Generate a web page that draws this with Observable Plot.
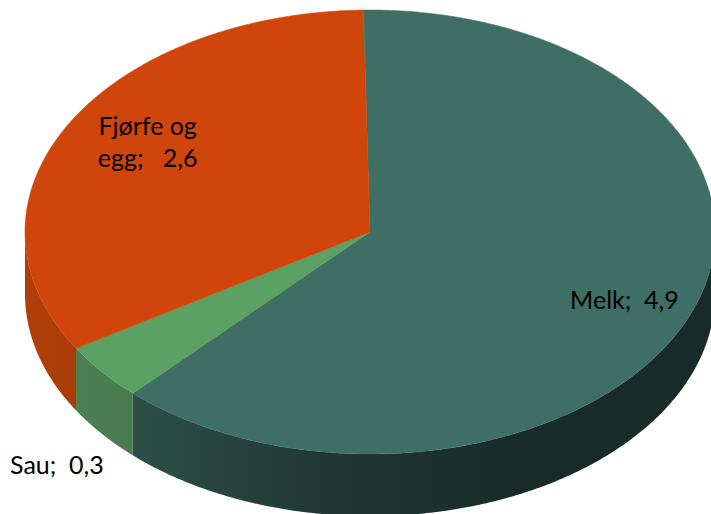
<!DOCTYPE html>
<html>
<head>
<meta charset="utf-8">
<script src="https://cdn.jsdelivr.net/npm/d3@7"></script>
<script src="https://cdn.jsdelivr.net/npm/@observablehq/plot@0.6"></script>
<style>
html,body{margin:0;padding:0;background:#fff;overflow:hidden}
svg{display:block;overflow:hidden}
</style>
</head>
<body>
<div id="chart"></div>
<script>
const categories = ["Melk", "Sau", "Fjørfe og egg"];
const values = [4.865, 0.325, 2.61];
const labelLines = ["Melk;  4,9", "Sau;  0,3", "Fjørfe og\negg;   2,6"];

// Styles and layout, kept apart from the data
const topColors = ["#3f6e64", "#5ba164", "#d0450b"];
const wallFills = ["url(#wall0)", "url(#wall1)", "url(#wall2)"];
const wallStops = [["#2d4f48", "#203733", "#182b28", "#182b28"], ["#4c8053", "#497b4e"], ["#b0400a", "#a93c07"]];
const labelX = [0.736, -0.909, -0.646];
const labelY = [0.297, 1.041, -0.414];
const startAngle = -1.1;     // degrees clockwise from the top
const wallDepth = 0.28;      // in units of the vertical radius
const step = 0.5;

const total = d3.sum(values);
let cursor = startAngle;
const slices = categories.map((name, i) => {
  const a0 = cursor;
  const a1 = cursor + values[i] / total * 360;
  cursor = a1;
  return {name, i, a0, a1};
});
const rad = d => d * Math.PI / 180;
const arcAngles = (a0, a1) => [...d3.range(a0, a1, step), a1];

const faces = slices.flatMap(s => arcAngles(s.a0, s.a1).map(a => ({
  i: s.i, x: Math.sin(rad(a)), y: -Math.cos(rad(a))
})));
const walls = slices.flatMap(s => {
  const lo = Math.max(s.a0, 90), hi = Math.min(s.a1, 270);
  if (hi <= lo) return [];
  return arcAngles(lo, hi).map(a => ({
    i: s.i, x: Math.sin(rad(a)), y: -Math.cos(rad(a))
  }));
});
const labels = categories.map((c, i) => ({text: labelLines[i], x: labelX[i], y: labelY[i]}));
const seam = [{
  x1: 0.75 * Math.sin(rad(startAngle)), y1: -0.75 * Math.cos(rad(startAngle)),
  x2: Math.sin(rad(startAngle)), y2: -Math.cos(rad(startAngle))
}];

const gradients = () => {
  const svgNS = "http://www.w3.org/2000/svg";
  const g = document.createElementNS(svgNS, "defs");
  wallStops.forEach((stops, i) => {
    const lg = document.createElementNS(svgNS, "linearGradient");
    lg.setAttribute("id", "wall" + i);
    stops.forEach((c, k) => {
      const st = document.createElementNS(svgNS, "stop");
      st.setAttribute("offset", k / (stops.length - 1));
      st.setAttribute("stop-color", c);
      lg.appendChild(st);
    });
    g.appendChild(lg);
  });
  return g;
};

const chart = Plot.plot({
  width: 711,
  height: 514,
  margin: 0,
  style: {background: "#fff"},
  x: {domain: [-1, 1], range: [25, 715], axis: null},
  y: {domain: [-1, 1], range: [10, 454], axis: null},
  marks: [
    gradients,
    Plot.area(walls, {
      x1: "x", y1: "y", y2: d => d.y + wallDepth, z: "i",
      fill: d => wallFills[d.i]
    }),
    Plot.area(faces, {
      x1: () => 0, y1: () => 0, x2: "x", y2: "y", z: "i",
      fill: d => topColors[d.i], stroke: d => topColors[d.i], strokeWidth: 0.5
    }),
    Plot.link(seam, {
      x1: "x1", y1: "y1", x2: "x2", y2: "y2",
      stroke: "#2f8a5c", strokeWidth: 1, strokeOpacity: 0.8
    }),
    Plot.text(labels, {
      x: "x", y: "y", text: "text",
      fontFamily: "Lato", fontSize: 25, lineHeight: 1.3, fill: "#000"
    })
  ]
});
document.getElementById("chart").appendChild(chart);
</script>
</body>
</html>
